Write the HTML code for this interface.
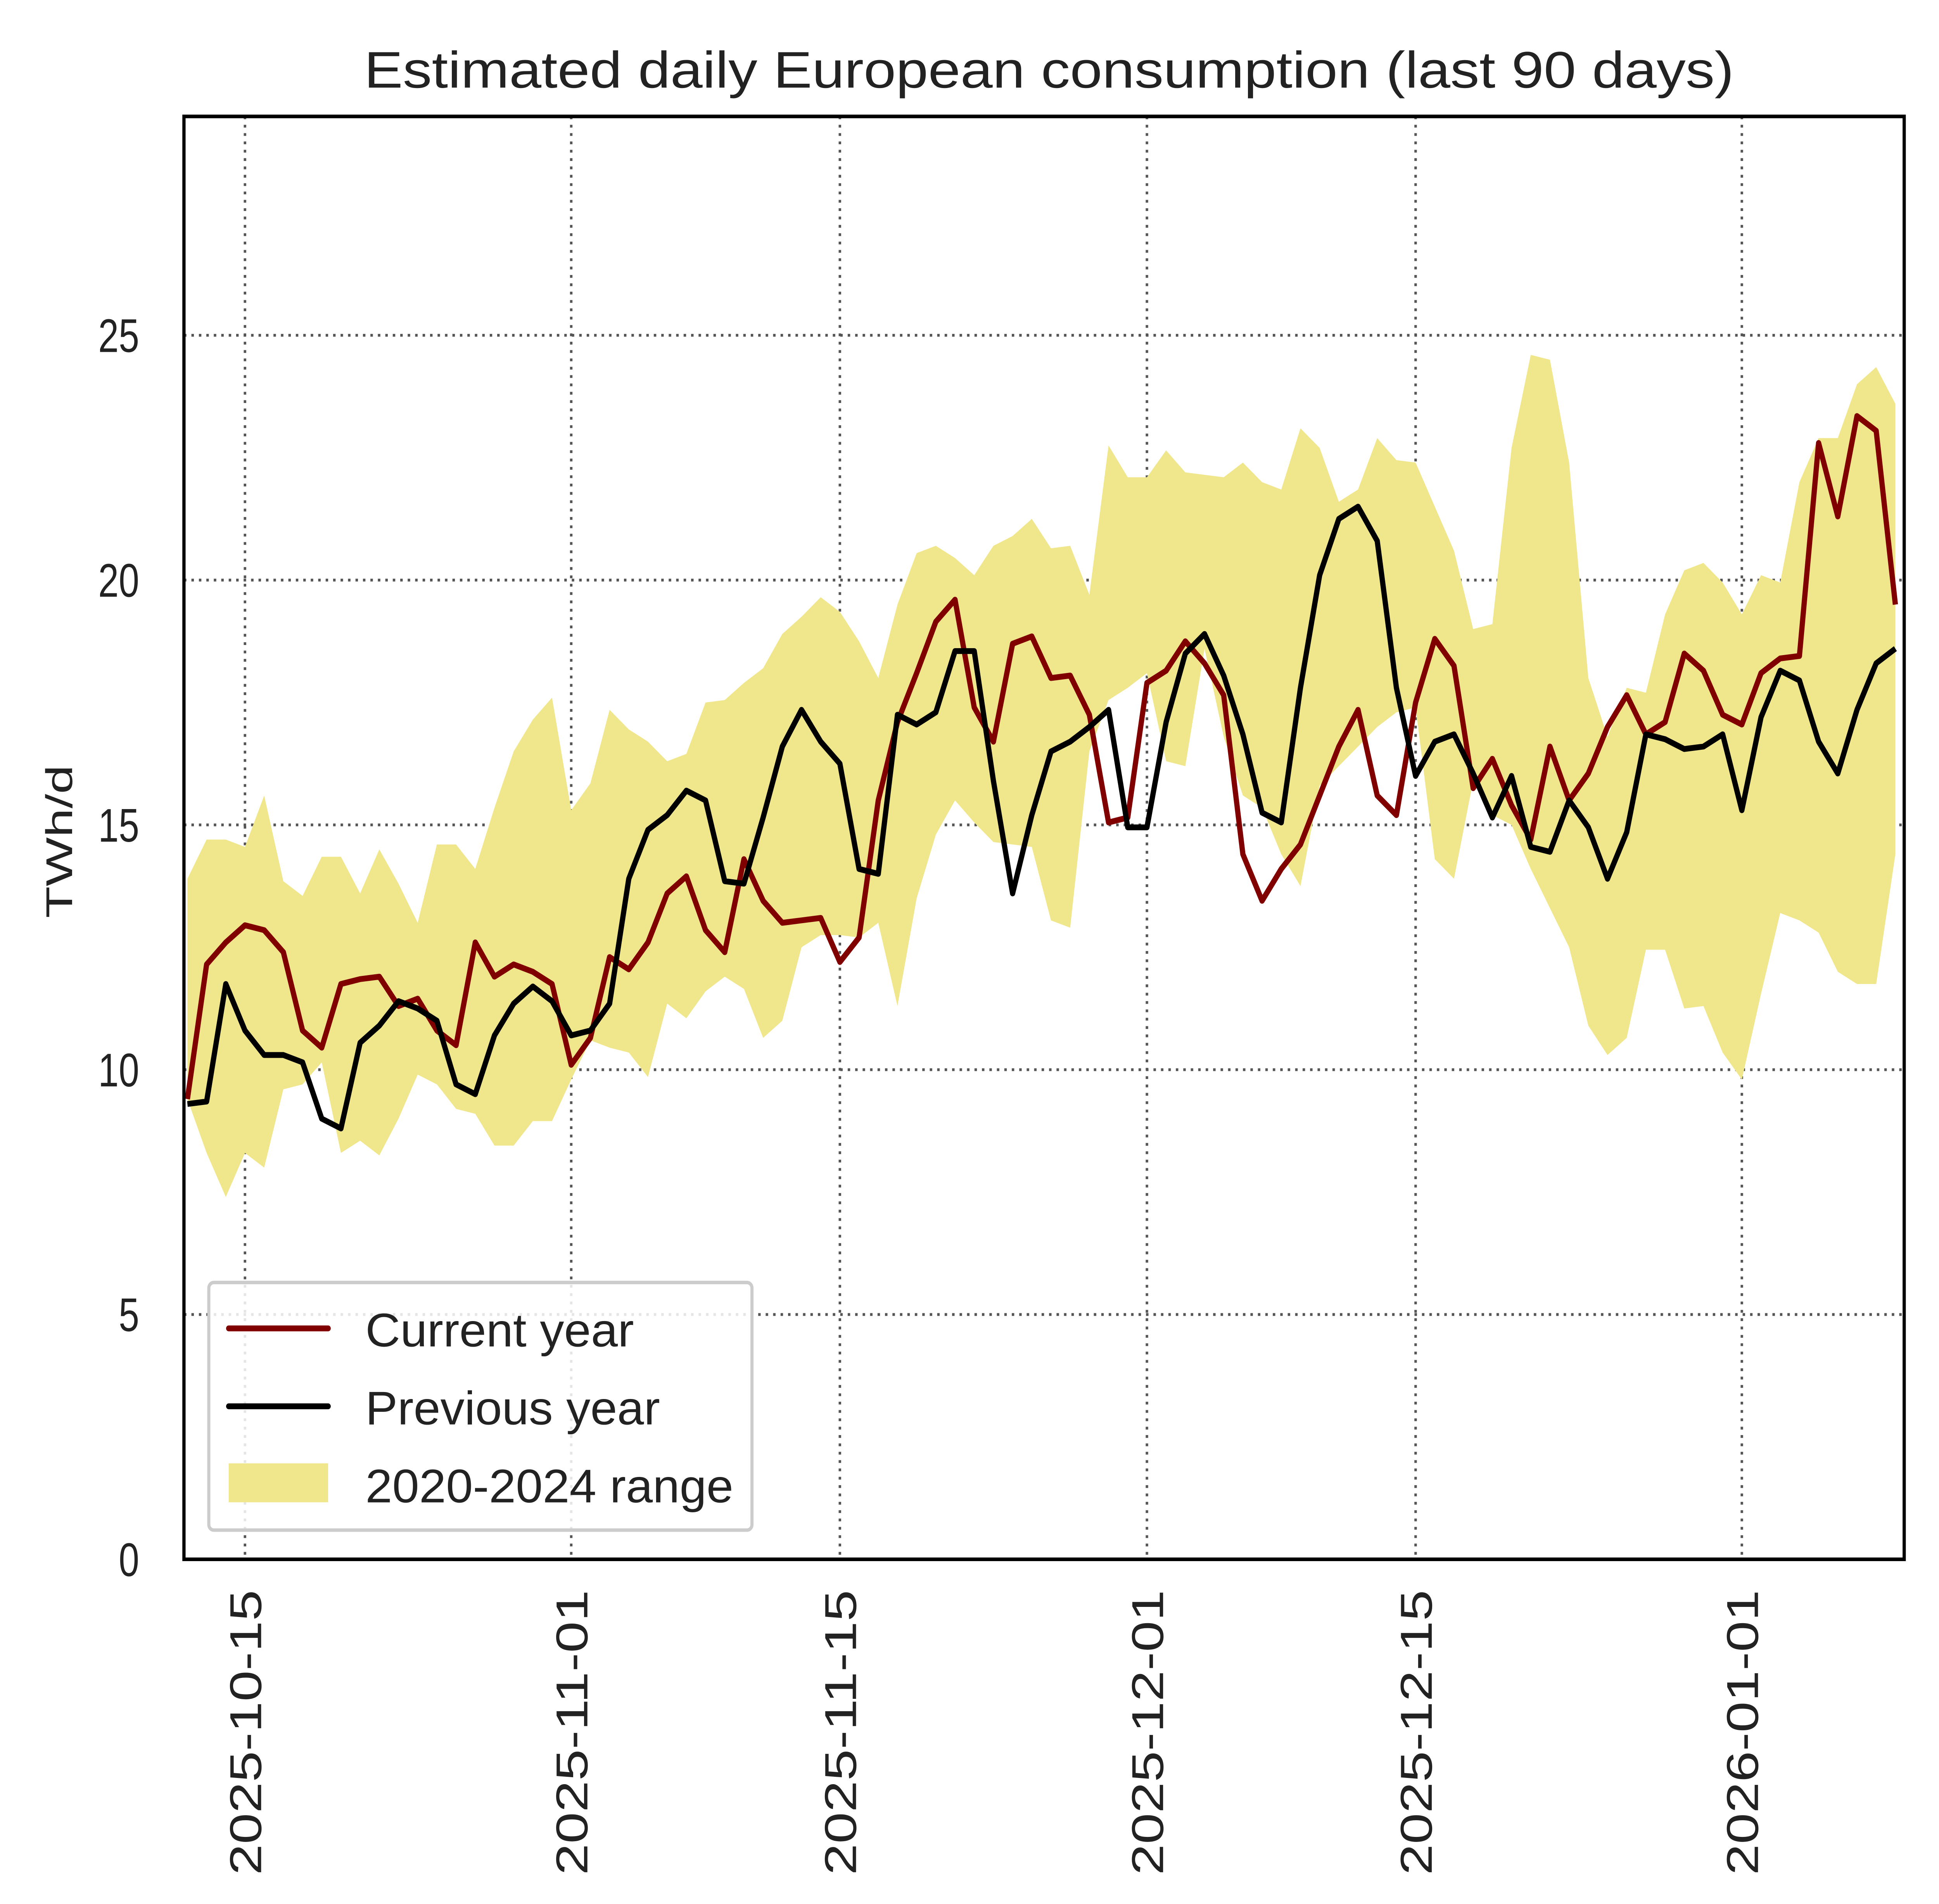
<!DOCTYPE html>
<html><head><meta charset="utf-8"><style>
html,body{margin:0;padding:0;background:#fff;width:100%;height:100%;overflow:hidden;}
svg{display:block;position:fixed;left:0;top:0;width:100vw;height:100vh;font-family:"Liberation Sans",Arial,sans-serif;}
</style></head><body>
<svg id="chart" viewBox="0 0 1560 1368.8" preserveAspectRatio="none" xmlns="http://www.w3.org/2000/svg">
<rect x="0" y="0" width="1560" height="1368.8" fill="#fff"/>
<text x="293" y="63" font-size="37" textLength="1102" lengthAdjust="spacingAndGlyphs" fill="#222">Estimated daily European consumption (last 90 days)</text>
<text x="0" y="0" font-size="30" textLength="110" lengthAdjust="spacingAndGlyphs" text-anchor="middle" fill="#222" transform="translate(58,605) rotate(-90)">TWh/d</text>
<g id="grid"></g>
<g id="band"></g>
<g id="lines"></g>
<rect x="148" y="83.7" width="1384" height="1037.3" fill="none" stroke="#000" stroke-width="2.6"/>
<g id="ticks"></g>
<g>
<rect x="168" y="922" width="437" height="178" rx="4" fill="#fff" fill-opacity="0.85" stroke="#ccc" stroke-width="2.5"/>
<g><line x1="184" y1="955" x2="264" y2="955" stroke="#800000" stroke-width="4.2" stroke-linecap="round"/><text x="294" y="968" font-size="34" textLength="216" lengthAdjust="spacingAndGlyphs" fill="#222">Current year</text></g>
<g><line x1="184" y1="1011" x2="264" y2="1011" stroke="#000" stroke-width="4.2" stroke-linecap="round"/><text x="294" y="1024" font-size="34" textLength="237" lengthAdjust="spacingAndGlyphs" fill="#222">Previous year</text></g>
<g><rect x="184" y="1052" width="80" height="28" fill="#f0e68c"/><text x="294" y="1080" font-size="34" textLength="296" lengthAdjust="spacingAndGlyphs" fill="#222">2020-2024 range</text></g>
</g>
</svg>
<script>
const currentYear=[9.4,12.15,12.6,12.95,12.85,12.4,10.8,10.45,11.75,11.85,11.9,11.3,11.45,10.8,10.5,12.6,11.9,12.15,12.0,11.75,10.1,10.65,12.3,12.05,12.6,13.6,13.95,12.85,12.4,14.3,13.45,13.0,13.05,13.1,12.2,12.7,15.5,17.1,18.1,19.15,19.6,17.4,16.7,18.7,18.85,18.0,18.05,17.25,15.05,15.15,17.9,18.15,18.75,18.3,17.65,14.4,13.45,14.1,14.6,15.6,16.6,17.35,15.6,15.2,17.5,18.8,18.25,15.75,16.35,15.4,14.7,16.6,15.5,16.05,17.0,17.65,16.85,17.1,18.5,18.15,17.25,17.05,18.1,18.4,18.45,22.8,21.3,23.35,23.05,19.5];
const previousYear=[9.3,9.35,11.75,10.8,10.3,10.3,10.15,9.0,8.8,10.55,10.9,11.4,11.25,11.0,9.7,9.5,10.7,11.35,11.7,11.4,10.7,10.8,11.35,13.9,14.9,15.2,15.7,15.5,13.85,13.8,15.15,16.6,17.35,16.7,16.25,14.1,14.0,17.25,17.05,17.3,18.55,18.55,15.9,13.6,15.2,16.5,16.7,17.0,17.35,14.95,14.95,17.1,18.5,18.9,18.05,16.85,15.25,15.05,17.8,20.1,21.25,21.5,20.8,17.8,16.0,16.7,16.85,16.05,15.15,16.0,14.55,14.45,15.5,14.95,13.9,14.85,16.85,16.75,16.55,16.6,16.85,15.3,17.2,18.15,17.95,16.7,16.05,17.35,18.3,18.6];
const rangeMax=[13.9,14.7,14.7,14.55,15.6,13.85,13.55,14.35,14.35,13.6,14.5,13.8,13.0,14.6,14.6,14.1,15.35,16.5,17.15,17.6,15.3,15.85,17.35,16.95,16.7,16.3,16.45,17.5,17.55,17.9,18.2,18.9,19.25,19.65,19.35,18.75,18.0,19.5,20.55,20.7,20.45,20.1,20.7,20.9,21.25,20.65,20.7,19.7,22.75,22.1,22.1,22.65,22.2,22.15,22.1,22.4,22.0,21.85,23.1,22.7,21.6,21.85,22.9,22.45,22.4,21.5,20.6,19.0,19.1,22.7,24.6,24.5,22.4,18.0,16.8,17.8,17.7,19.3,20.2,20.35,19.95,19.3,20.1,19.95,22.0,22.9,22.9,24.0,24.35,23.6];
const rangeMin=[9.4,8.3,7.4,8.3,8.0,9.6,9.7,10.15,8.3,8.55,8.25,9.0,9.9,9.7,9.2,9.1,8.45,8.45,8.95,8.95,9.8,10.6,10.45,10.35,9.85,11.35,11.05,11.6,11.9,11.65,10.65,11.0,12.5,12.75,12.75,12.7,13.0,11.3,13.5,14.8,15.5,15.05,14.65,14.6,14.55,13.05,12.9,16.5,17.55,17.8,18.1,16.3,16.2,18.6,16.8,15.6,15.35,14.4,13.75,15.8,16.2,16.6,17.0,17.3,17.4,14.3,13.9,15.9,15.2,15.0,14.1,13.3,12.5,10.9,10.3,10.65,12.45,12.45,11.25,11.3,10.35,9.8,11.55,13.2,13.05,12.8,12.0,11.75,11.75,14.4];
const yTicks=[0,5,10,15,20,25];
const xTickLabels=["2025-10-15","2025-11-01","2025-11-15","2025-12-01","2025-12-15","2026-01-01"];
const xTickDays=[3,20,34,50,64,81]; // day index from 2025-10-12

const NS="http://www.w3.org/2000/svg";
const X0=148,X1=1532,Y0=1121,Y1=83.7;
const dMin=-0.18,dMax=89.46,vMin=0,vMax=29.47;
const xs=d=>X0+(d-dMin)/(dMax-dMin)*(X1-X0);
const ys=v=>Y0-(v-vMin)/(vMax-vMin)*(Y0-Y1);
function mk(t,a,p){const e=document.createElementNS(NS,t);for(const k in a)e.setAttribute(k,a[k]);p.appendChild(e);return e;}
const grid=document.getElementById('grid'),ticks=document.getElementById('ticks');
yTicks.forEach(v=>{
 if(v>0){const l=mk('line',{x1:X0,x2:X1,y1:ys(v),y2:ys(v),stroke:'#555','stroke-width':2,'stroke-dasharray':'2,4'},grid);
 
 }
 const s=String(v);
 const t=mk('text',{x:112,y:ys(v)+12,'font-size':34,'text-anchor':'end',textLength:s.length*16.5,lengthAdjust:'spacingAndGlyphs',fill:'#222'},ticks);
 t.textContent=s;
 
 
});
xTickDays.forEach((d,i)=>{
 const x=xs(d);
 const l=mk('line',{x1:x,x2:x,y1:Y1,y2:Y0,stroke:'#555','stroke-width':2,'stroke-dasharray':'2,4'},grid);
 
 
 const t=mk('text',{x:0,y:0,'font-size':36,'text-anchor':'end',textLength:205,lengthAdjust:'spacingAndGlyphs',fill:'#222',transform:`translate(${x+13},${Y0+22}) rotate(-90)`},ticks);
 t.textContent=xTickLabels[i];
 
 
});
let pts=rangeMax.map((v,i)=>xs(i)+','+ys(v));
for(let i=rangeMin.length-1;i>=0;i--)pts.push(xs(i)+','+ys(rangeMin[i]));
const band=mk('polygon',{points:pts.join(' '),fill:'#f0e68c'},document.getElementById('band'));


const lines=document.getElementById('lines');
const cur=mk('polyline',{points:currentYear.map((v,i)=>xs(i)+','+ys(v)).join(' '),fill:'none',stroke:'#800000','stroke-width':4.2,'stroke-linejoin':'round'},lines);


const prev=mk('polyline',{points:previousYear.map((v,i)=>xs(i)+','+ys(v)).join(' '),fill:'none',stroke:'#000','stroke-width':4.2,'stroke-linejoin':'round'},lines);


</script>
</body></html>
